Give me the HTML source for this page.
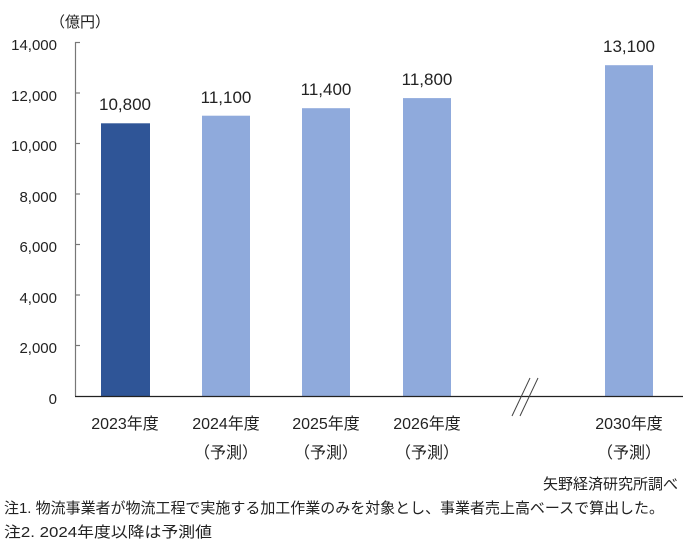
<!DOCTYPE html>
<html><head><meta charset="utf-8"><style>
body{margin:0;background:#fff;}
svg text{font-family:"Liberation Sans","Noto Sans CJK JP",sans-serif;fill:#222;}
</style></head><body>
<svg width="683" height="545" xmlns="http://www.w3.org/2000/svg">
<g font-size="15" text-anchor="end">
<text x="57" y="50">14,000</text>
<text x="57" y="101">12,000</text>
<text x="57" y="151">10,000</text>
<text x="57" y="202">8,000</text>
<text x="57" y="252">6,000</text>
<text x="57" y="303">4,000</text>
<text x="57" y="353">2,000</text>
<text x="57" y="404">0</text>
</g>
<text x="50" y="27" font-size="15">（億円）</text>
<line x1="75.5" y1="42" x2="75.5" y2="396" stroke="#777" stroke-width="1.2"/>
<g stroke="#777" stroke-width="1.2">
<line x1="75" y1="42.5" x2="80" y2="42.5"/><line x1="75" y1="93" x2="80" y2="93"/>
<line x1="75" y1="143.5" x2="80" y2="143.5"/><line x1="75" y1="194" x2="80" y2="194"/>
<line x1="75" y1="244.5" x2="80" y2="244.5"/><line x1="75" y1="295" x2="80" y2="295"/>
<line x1="75" y1="345.5" x2="80" y2="345.5"/>
</g>
<rect x="101" y="123.3" width="49" height="272.7" fill="#2f5597"/>
<rect x="202" y="115.7" width="48" height="280.3" fill="#8faadc"/>
<rect x="302" y="108.2" width="48" height="287.8" fill="#8faadc"/>
<rect x="403" y="98.1" width="48" height="297.9" fill="#8faadc"/>
<rect x="605" y="65.2" width="48" height="330.8" fill="#8faadc"/>
<line x1="75" y1="396.5" x2="683" y2="396.5" stroke="#222" stroke-width="1.2"/>
<g stroke="#444" stroke-width="1"><line x1="512" y1="416" x2="530" y2="378"/><line x1="520" y1="416" x2="538" y2="378"/></g>
<g font-size="17" text-anchor="middle">
<text x="125" y="110">10,800</text>
<text x="226" y="103">11,100</text>
<text x="326" y="95">11,400</text>
<text x="427" y="85">11,800</text>
<text x="629" y="52">13,100</text>
</g>
<g font-size="16" text-anchor="middle">
<text x="125" y="429">2023年度</text>
<text x="226" y="429">2024年度</text>
<text x="326" y="429">2025年度</text>
<text x="427" y="429">2026年度</text>
<text x="629" y="429">2030年度</text>
<text x="226" y="458">（予測）</text>
<text x="326" y="458">（予測）</text>
<text x="427" y="458">（予測）</text>
<text x="629" y="458">（予測）</text>
</g>
<text x="678" y="489" font-size="15" text-anchor="end">矢野経済研究所調べ</text>
<text x="4" y="513" font-size="15" textLength="660" lengthAdjust="spacingAndGlyphs">注1.  物流事業者が物流工程で実施する加工作業のみを対象とし、事業者売上高ベースで算出した。</text>
<text x="4" y="537" font-size="15" textLength="208" lengthAdjust="spacingAndGlyphs">注2.  2024年度以降は予測値</text>
</svg>
</body></html>
